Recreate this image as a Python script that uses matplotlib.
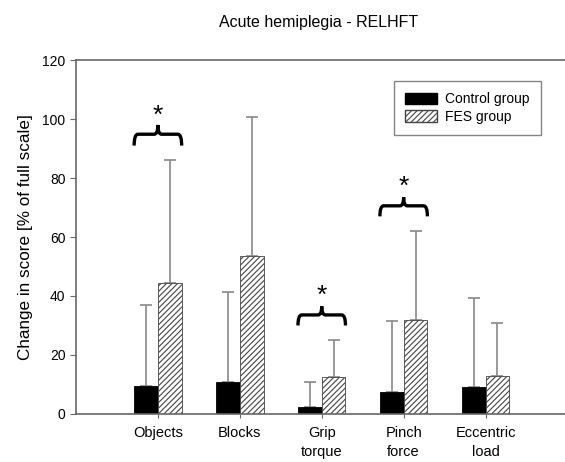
import matplotlib.pyplot as plt
import numpy as np
from matplotlib.patches import Patch, PathPatch
from matplotlib.path import Path

plt.rcParams['font.family'] = ['Liberation Sans', 'DejaVu Sans']
plt.rcParams['hatch.color'] = '#555555'
plt.rcParams['hatch.linewidth'] = 0.8

categories = ["Objects", "Blocks", "Grip\ntorque", "Pinch\nforce", "Eccentric\nload"]
control_mean = [9.5, 11.0, 2.5, 7.5, 9.0]
control_sd = [27.5, 30.4, 8.5, 24.0, 30.3]
fes_mean = [44.4, 53.5, 12.5, 32.0, 13.0]
fes_sd = [41.6, 47.2, 12.5, 30.0, 17.7]

# significance braces: (category index, brace bottom, brace tip, star y)
sig_marks = [(0, 91, 98, 101), (2, 30, 36.5, 40), (3, 67, 73.5, 77)]


def brace_path(xl, xr, yb, yt):
    # horizontal curly brace, tip pointing up
    xc = (xl + xr) / 2
    ym = yb + (yt - yb) * 0.55
    dx = (xr - xl) * 0.08
    verts = [
        (xl, yb), (xl, ym), (xl + dx, ym),
        (xc - dx, ym),
        (xc, ym), (xc, yt),
        (xc, ym), (xc + dx, ym),
        (xr - dx, ym),
        (xr, ym), (xr, yb),
    ]
    codes = [Path.MOVETO, Path.CURVE3, Path.CURVE3, Path.LINETO,
             Path.CURVE3, Path.CURVE3,
             Path.CURVE3, Path.CURVE3, Path.LINETO,
             Path.CURVE3, Path.CURVE3]
    return Path(verts, codes)


fig = plt.figure(figsize=(5.65, 4.62), dpi=100)
ax = fig.add_axes([0.1345, 0.104, 0.8655, 0.766])

x = np.arange(1, len(categories) + 1)
w = 0.29
ax.bar(x - w / 2, control_mean, w, color='black', edgecolor='black', linewidth=0.6, zorder=2)
ax.bar(x + w / 2, fes_mean, w, color='white', edgecolor='#444444', hatch='//////', linewidth=0.6, zorder=2)

ax.errorbar(x - w / 2, control_mean, yerr=[np.zeros(5), control_sd], fmt='none',
            ecolor='#888888', elinewidth=1.2, capsize=4, capthick=1.2, zorder=1)
ax.errorbar(x + w / 2, fes_mean, yerr=[np.zeros(5), fes_sd], fmt='none',
            ecolor='#888888', elinewidth=1.2, capsize=4, capthick=1.2, zorder=1)

for i, yb, yt, ys in sig_marks:
    xc = x[i]
    ax.add_patch(PathPatch(brace_path(xc - w, xc + w, yb, yt), fill=False,
                           edgecolor='black', linewidth=2.4, zorder=3))
    ax.text(xc, ys, "*", ha='center', va='center', fontsize=19)

ax.set_xlim(0, 5.97)
ax.set_ylim(0, 120)
ax.set_yticks(range(0, 121, 20))
ax.set_xticks(x)
ax.set_xticklabels(categories, fontsize=10.5, linespacing=1.45)
ax.tick_params(axis='y', labelsize=10, length=4, color='#666666')
ax.tick_params(axis='x', length=3, color='#666666', pad=6)
for s in ['left', 'bottom', 'top']:
    ax.spines[s].set_color('#666666')
    ax.spines[s].set_linewidth(1.2)
ax.spines['right'].set_visible(False)

ax.set_ylabel("Change in score [% of full scale]", fontsize=12.3, labelpad=7)
fig.text(0.563, 0.952, "Acute hemiplegia - RELHFT", ha='center', va='center', fontsize=11.5)

legend_patches = [
    Patch(facecolor='black', edgecolor='black', label='Control group'),
    Patch(facecolor='white', edgecolor='#444444', hatch='//////', label='FES group'),
]
leg = ax.legend(handles=legend_patches, loc='upper right', bbox_to_anchor=(0.965, 0.96),
                fontsize=10, fancybox=False, edgecolor='#666666', handlelength=2.3,
                handleheight=0.9, borderpad=0.8, labelspacing=0.25, handletextpad=0.6)
leg.get_frame().set_linewidth(1.0)

fig.savefig("out.png", dpi=100)
